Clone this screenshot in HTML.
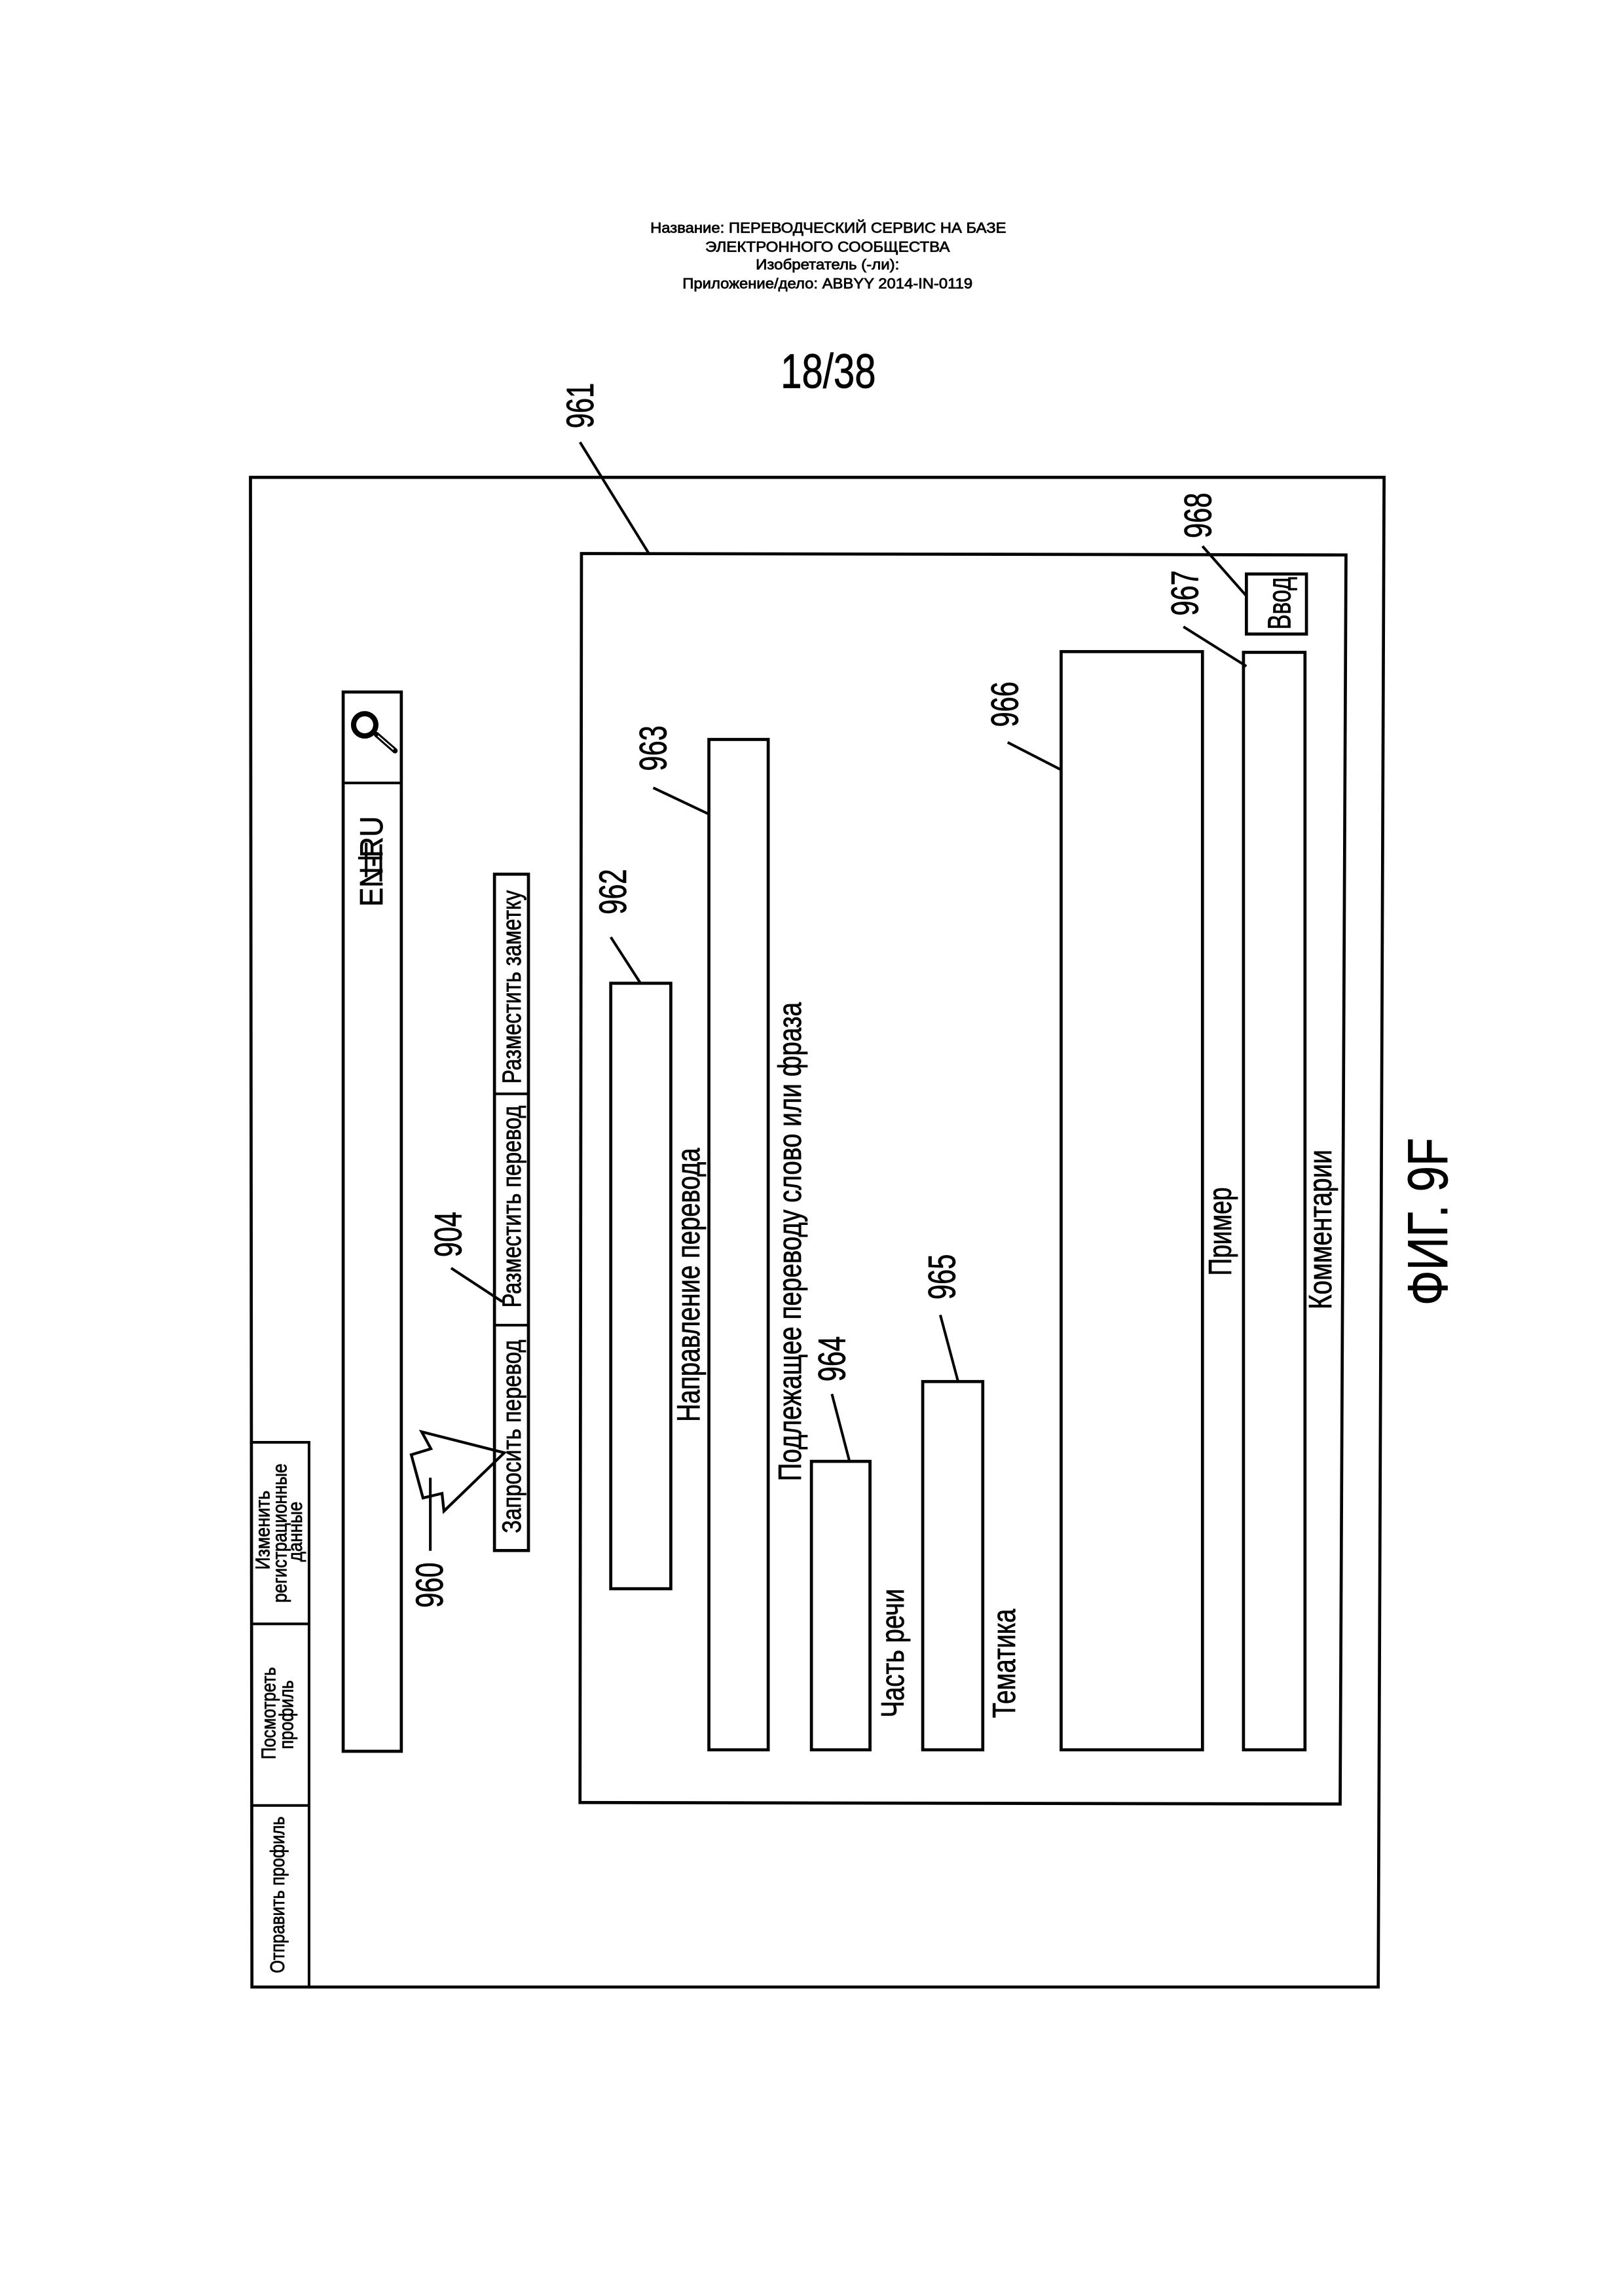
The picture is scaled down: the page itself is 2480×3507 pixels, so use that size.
<!DOCTYPE html>
<html><head><meta charset="utf-8">
<style>
html,body{margin:0;padding:0;background:#fff}
svg{display:block}
text{font-family:"Liberation Sans","Noto Sans CJK JP",sans-serif;fill:#000;text-anchor:middle;stroke:#000;stroke-width:.35}
.b{fill:#fff;stroke:#000;stroke-width:2.1}
.l{fill:none;stroke:#000;stroke-width:1.8}
</style></head><body>
<svg width="2480" height="3507" viewBox="0 0 1108.8 1568" xmlns="http://www.w3.org/2000/svg">
<rect width="1108.8" height="1568" fill="#fff"/>
<text x="565.5" y="159" font-size="10" textLength="243" lengthAdjust="spacingAndGlyphs">Название: ПЕРЕВОДЧЕСКИЙ СЕРВИС НА БАЗЕ</text>
<text x="565" y="172" font-size="10" textLength="167" lengthAdjust="spacingAndGlyphs">ЭЛЕКТРОННОГО СООБЩЕСТВА</text>
<text x="565" y="184" font-size="10" textLength="98" lengthAdjust="spacingAndGlyphs">Изобретатель (-ли):</text>
<text x="565" y="197" font-size="10" textLength="198" lengthAdjust="spacingAndGlyphs">Приложение/дело: ABBYY 2014-IN-0119</text>
<text x="565.5" y="265" font-size="33" textLength="65" lengthAdjust="spacingAndGlyphs">18/38</text>

<polygon class="b" points="171,326 945,326 941,1357 172,1357"/>
<polygon class="b" points="397,378 919,379 915,1232 396,1231"/>

<!-- sidebar -->
<path class="l" d="M172,985 L211,985 L211,1357 M172,1109 L211,1109 M172,1233 L211,1233"/>
<text transform="translate(184,1045) rotate(-90)" font-size="13.5" textLength="54" lengthAdjust="spacingAndGlyphs">Изменить</text>
<text transform="translate(195.500,1047) rotate(-90)" font-size="13.5" textLength="95" lengthAdjust="spacingAndGlyphs">регистрационные</text>
<text transform="translate(206,1046) rotate(-90)" font-size="13.5" textLength="41" lengthAdjust="spacingAndGlyphs">данные</text>
<text transform="translate(188,1170) rotate(-90)" font-size="13.5" textLength="63" lengthAdjust="spacingAndGlyphs">Посмотреть</text>
<text transform="translate(200,1171) rotate(-90)" font-size="13.5" textLength="47" lengthAdjust="spacingAndGlyphs">профиль</text>
<text transform="translate(194,1294) rotate(-90)" font-size="13.5" textLength="107" lengthAdjust="spacingAndGlyphs">Отправить профиль</text>

<!-- search bar -->
<rect class="b" x="234.3" y="472.6" width="39.7" height="723.400"/>
<path class="l" d="M234,534.7 L274,534.7"/>
<circle cx="249" cy="495" r="7.6" fill="none" stroke="#000" stroke-width="3.600"/>
<path d="M257,501.6 L269.700,512.7" fill="none" stroke="#000" stroke-width="3.600" stroke-linecap="round"/>
<path d="M258,502.500 L268.700,511.800" fill="none" stroke="#fff" stroke-width=".9"/>
<text transform="translate(261,588.3) rotate(-90)" font-size="21.8" textLength="61.8" lengthAdjust="spacingAndGlyphs">EN-RU</text>
<path d="M250,575.400 L250,599 M260,576.600 L260,602 M244.500,586 L261,586" class="l" stroke-width="1.400"/>

<!-- buttons -->
<rect class="b" x="337.600" y="597" width="23.200" height="461.900"/>
<path class="l" d="M338,747 L361,747 M338,905 L361,905"/>
<text transform="translate(355.500,674) rotate(-90)" font-size="18" textLength="132" lengthAdjust="spacingAndGlyphs">Разместить заметку</text>
<text transform="translate(355.500,824) rotate(-90)" font-size="18" textLength="138" lengthAdjust="spacingAndGlyphs">Разместить перевод</text>
<text transform="translate(355.500,981) rotate(-90)" font-size="18" textLength="132" lengthAdjust="spacingAndGlyphs">Запросить перевод</text>

<!-- cursor -->
<polygon points="344.300,992.100 287.900,977.800 294.200,989.400 280.800,993.500 288.800,1023 301.800,1019.900 303.100,1032" fill="none" stroke="#000" stroke-width="1.900"/>
<path class="l" d="M293.800,1059.100 L293.800,1009.200"/>

<!-- fields -->
<rect class="b" x="417" y="671.5" width="41" height="413.500"/>
<rect class="b" x="484" y="505" width="40.500" height="690"/>
<rect class="b" x="554" y="998" width="40" height="197"/>
<rect class="b" x="630" y="943.500" width="41" height="251.500"/>
<rect class="b" x="724.500" y="445" width="96.500" height="750"/>
<rect class="b" x="849" y="445.500" width="42" height="749.500"/>
<rect class="b" x="851" y="392" width="41" height="41"/>

<text transform="translate(477.600,877.500) rotate(-90)" font-size="21.8" textLength="187" lengthAdjust="spacingAndGlyphs">Направление перевода</text>
<text transform="translate(546.900,848) rotate(-90)" font-size="21.8" textLength="327" lengthAdjust="spacingAndGlyphs">Подлежащее переводу слово или фраза</text>
<text transform="translate(617,1129) rotate(-90)" font-size="21.8" textLength="88" lengthAdjust="spacingAndGlyphs">Часть речи</text>
<text transform="translate(693,1136) rotate(-90)" font-size="21.8" textLength="74.5" lengthAdjust="spacingAndGlyphs">Тематика</text>
<text transform="translate(840.600,841) rotate(-90)" font-size="21.8" textLength="60.400" lengthAdjust="spacingAndGlyphs">Пример</text>
<text transform="translate(909,839.700) rotate(-90)" font-size="21.8" textLength="109" lengthAdjust="spacingAndGlyphs">Комментарии</text>
<text transform="translate(881,412) rotate(-90)" font-size="22" textLength="36" lengthAdjust="spacingAndGlyphs">Ввод</text>

<!-- reference numbers -->
<g font-size="26">
<text transform="translate(405,277) rotate(-90)" textLength="31" lengthAdjust="spacingAndGlyphs">961</text>
<text transform="translate(427.500,609) rotate(-90)" textLength="31" lengthAdjust="spacingAndGlyphs">962</text>
<text transform="translate(455,511) rotate(-90)" textLength="31" lengthAdjust="spacingAndGlyphs">963</text>
<text transform="translate(695,481) rotate(-90)" textLength="31" lengthAdjust="spacingAndGlyphs">966</text>
<text transform="translate(818,405) rotate(-90)" textLength="31" lengthAdjust="spacingAndGlyphs">967</text>
<text transform="translate(827,352) rotate(-90)" textLength="31" lengthAdjust="spacingAndGlyphs">968</text>
<text transform="translate(315,843) rotate(-90)" textLength="31" lengthAdjust="spacingAndGlyphs">904</text>
<text transform="translate(302.300,1082.500) rotate(-90)" textLength="31" lengthAdjust="spacingAndGlyphs">960</text>
<text transform="translate(577,928) rotate(-90)" textLength="31" lengthAdjust="spacingAndGlyphs">964</text>
<text transform="translate(652,872) rotate(-90)" textLength="31" lengthAdjust="spacingAndGlyphs">965</text>
</g>
<path class="l" d="M396,302 L443,378 M417,640 L437,671 M446,538 L484,556 M688,507 L725,526 M808,428 L851,455 M821,373 L851,407 M308,866 L343,889 M568,952 L580,998 M642,898 L654,943"/>

<text transform="translate(988,834.300) rotate(-90)" font-size="38.6" textLength="114.600" lengthAdjust="spacingAndGlyphs">ФИГ. 9F</text>
</svg>
</body></html>
